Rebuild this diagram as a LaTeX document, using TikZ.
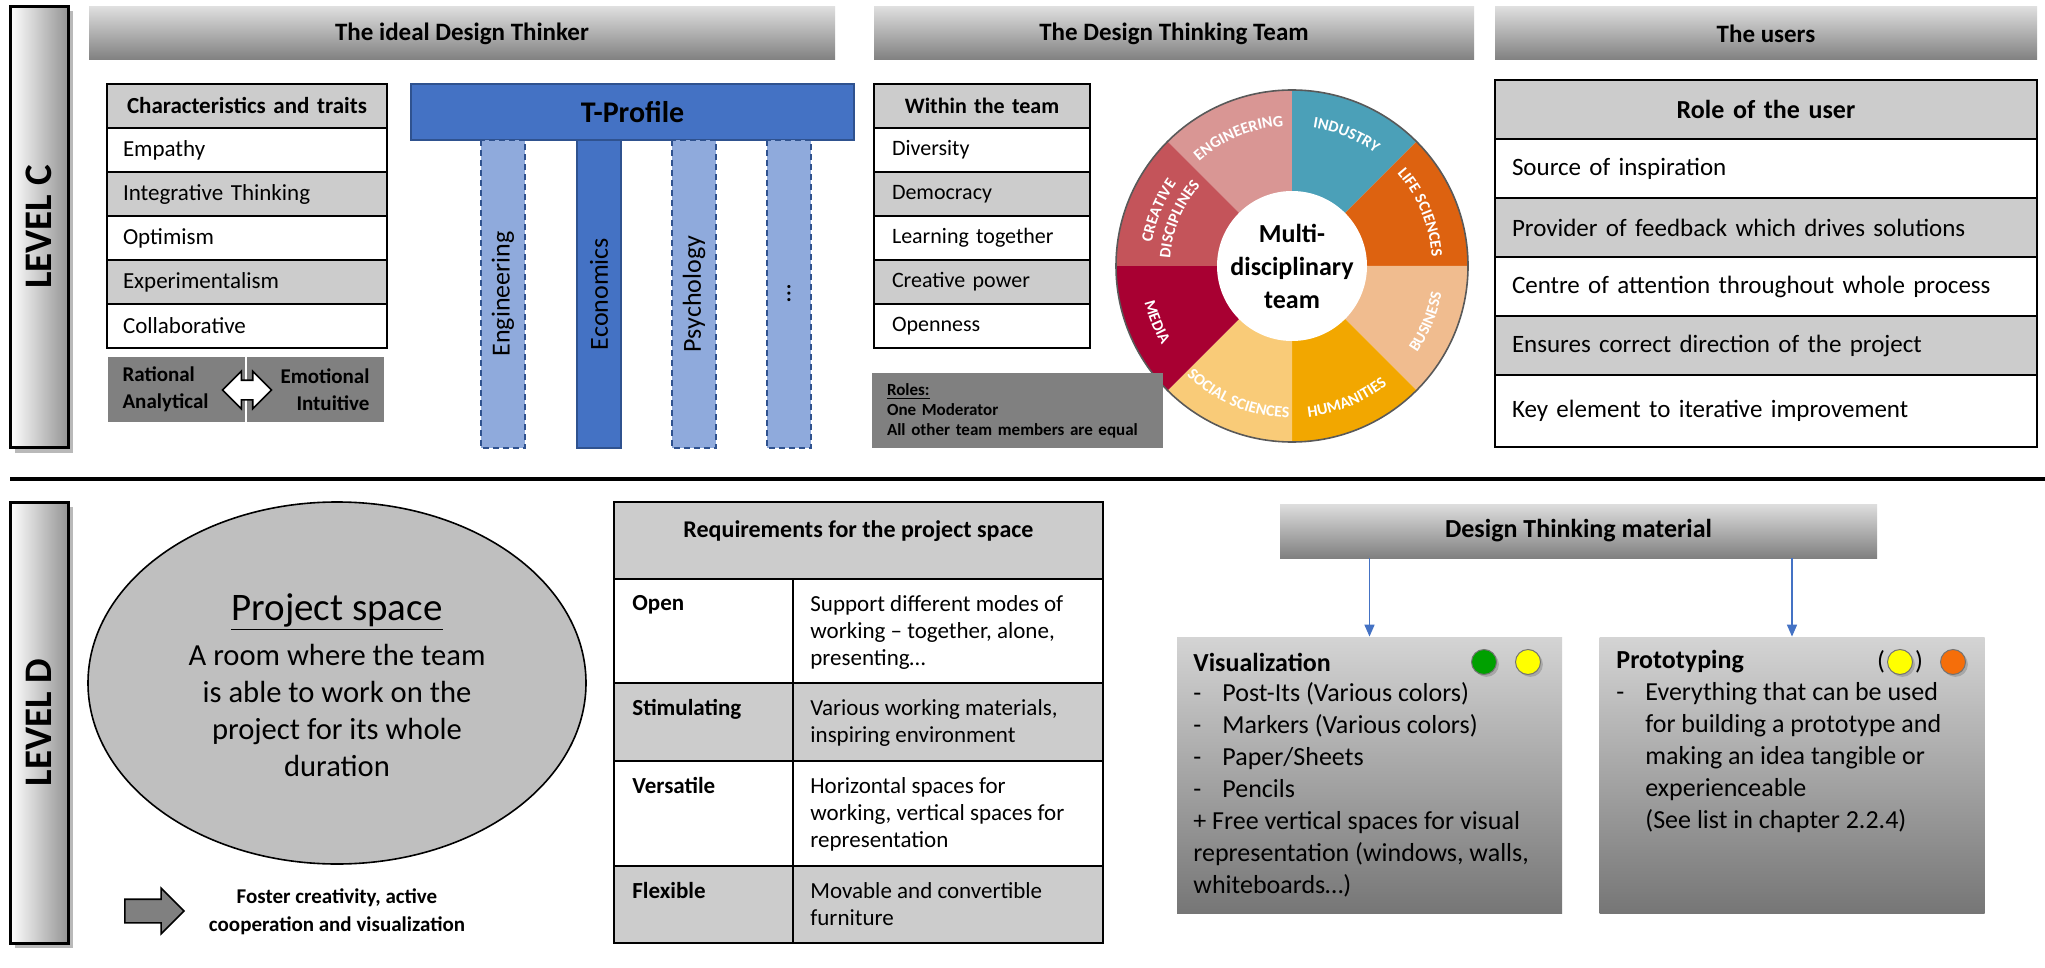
\documentclass[tikz,border=0pt]{standalone}
\usepackage{fontspec}
\setmainfont{Carlito}
\usepackage{graphicx}
\usetikzlibrary{positioning,shadows,shapes.arrows,shapes.geometric,arrows.meta,decorations.text}
\definecolor{hdtop}{RGB}{222,222,222}
\definecolor{hdbot}{RGB}{128,128,128}
\definecolor{cgray}{RGB}{204,204,204}
\definecolor{dgray}{RGB}{128,128,128}
\definecolor{egray}{RGB}{191,191,191}
\definecolor{tblue}{RGB}{68,114,196}
\definecolor{tlight}{RGB}{143,170,220}
\definecolor{tedge}{RGB}{47,82,143}
\definecolor{wEng}{RGB}{217,150,148}
\definecolor{wInd}{RGB}{75,160,184}
\definecolor{wLife}{RGB}{221,98,16}
\definecolor{wBus}{RGB}{240,188,143}
\definecolor{wHum}{RGB}{242,167,0}
\definecolor{wSoc}{RGB}{249,203,120}
\definecolor{wMed}{RGB}{168,0,50}
\definecolor{wCre}{RGB}{196,84,90}
\definecolor{gtop}{RGB}{212,212,212}
\definecolor{gbot}{RGB}{118,118,118}
\definecolor{dotgreen}{RGB}{0,160,0}
\definecolor{dotyellow}{RGB}{255,255,0}
\definecolor{dotorange}{RGB}{245,110,10}

\newcommand{\fsz}[2]{\fontsize{#1}{#2}\selectfont}
\newcommand{\mitem}{\makebox[14.5pt][l]{-}}
\newcommand{\mgap}{\hspace*{14.5pt}}
\newcommand{\wfont}{\fsz{8}{9}\bfseries\color{white}}

\begin{document}
\begin{tikzpicture}[x=0.5pt, y=-0.5pt,
    level/.style={draw, line width=1.5pt, left color=white, right color=black!42,
                  minimum width=29pt, minimum height=220.5pt, inner sep=0pt,
                  font=\bfseries\fsz{19.5}{22},
                  drop shadow={shadow xshift=2.5pt, shadow yshift=-2.5pt, opacity=0.55}},
    head/.style={top color=hdtop, bottom color=hdbot, minimum height=26.5pt,
                 inner sep=0pt, font=\bfseries\fsz{12.5}{15}},
    thead/.style={draw, line width=1.1pt, fill=cgray, anchor=north, align=center,
                  inner ysep=0pt, outer sep=0pt, font=\bfseries\fsz{11.5}{14}},
    trow/.style={draw, line width=1.1pt, anchor=north, align=left,
                 inner ysep=0pt, outer sep=0pt, font=\fsz{11.5}{14}},
    gbox/.style={fill=dgray, inner ysep=0pt, font=\bfseries\fsz{10.5}{13.5}},
    tbar/.style={draw=tedge, fill=tblue, line width=0.8pt, minimum width=221.5pt,
                 minimum height=28pt, font=\bfseries\fsz{15}{18}},
    stem/.style={draw=tedge, line width=0.8pt, minimum width=154pt, minimum height=22pt,
                 inner sep=0pt, font=\fsz{13}{15}},
    stemL/.style={stem, fill=tlight, dash pattern=on 3pt off 2pt},
    stemD/.style={stem, fill=tblue},
    wlab/.style={decorate, decoration={text along path, text align=center,
                 text={|\wfont|#1}}},
    rcell/.style={draw, line width=1.1pt, anchor=north west, inner sep=0pt, outer sep=0pt},
    rkey/.style={anchor=north west, inner sep=0pt, font=\bfseries\fsz{11.5}{13.5}},
    rval/.style={anchor=north west, inner sep=0pt, align=left, font=\fsz{11.5}{13.5}},
    mbox/.style={top color=gtop, bottom color=gbot, minimum width=192.5pt,
                 minimum height=138pt, inner sep=0pt},
    mtitle/.style={anchor=west, inner sep=0pt, font=\bfseries\fsz{13}{16}},
    mtext/.style={anchor=north west, inner sep=0pt, align=left, font=\fsz{13}{16}},
    dot/.style={circle, draw=black!55, line width=0.5pt, minimum size=12.5pt, inner sep=0pt,
                drop shadow={shadow xshift=1.2pt, shadow yshift=-1.2pt, opacity=0.45}},
    link/.style={->, draw=tblue, line width=0.8pt, >={Triangle[length=6pt, width=5pt]}},
  ]
  \useasboundingbox (0,0) rectangle (2045,968);
  \fill[white] (0,0) rectangle (2045,968);

  % levels
  \node[level] (lvC) at (39,227) {\rotatebox{90}{LEVEL C}};
  \node[level] (lvD) at (39,722.5) {\rotatebox{90}{LEVEL D}};
  \draw[line width=2pt] (10,479) -- (2045,479);

  % headers
  \node[head, minimum width=373pt] (hThinker) at (462,33.5) {The ideal Design Thinker};
  \node[head, minimum width=300pt] (hTeam) at (1174,33.5) {The Design Thinking Team};
  \node[head, minimum width=271pt] (hUsers) at (1766,33.5) {The users};

  % characteristics
  \node[thead, text width=124pt, inner xsep=8pt, minimum height=22pt] (ch0) at (247,84)
    {Characteristics and traits};
  \foreach \c/\t [count=\i, remember=\i as \k (initially 0)] in
      {white/Empathy, cgray/Integrative Thinking, white/Optimism,
       cgray/Experimentalism, white/Collaborative}
    \node[trow, fill=\c, text width=124pt, inner xsep=8pt, minimum height=22pt,
          below=0pt of ch\k] (ch\i) {\t};

  \node[gbox, text width=54pt, inner xsep=7.25pt, minimum height=32.5pt, align=left]
    (rat) at (176.5,389.5) {Rational\\Analytical};
  \node[gbox, text width=54pt, inner xsep=7.25pt, minimum height=32.5pt, align=right]
    (emo) at (315.5,389.5) {Emotional\\Intuitive};
  \node[double arrow, draw, fill=white, line width=0.8pt, minimum height=24.5pt,
        minimum width=18pt, double arrow head extend=4.5pt, inner xsep=0pt, inner ysep=4.5pt]
    (ratemo) at (247,390) {};

  % T-profile
  \node[tbar] (tprof) at (632.5,112) {T-Profile};
  \foreach \x/\s/\t [count=\i] in {503/stemL/Engineering, 599/stemD/Economics,
                                   694/stemL/Psychology, 789/stemL/…}
    \node[\s, rotate=90] (st\i) at (\x,294) {\t};

  % team
  \node[thead, text width=90pt, inner xsep=9pt, minimum height=22pt, font=\bfseries\fsz{11}{13}]
    (tm0) at (982,84) {Within the team};
  \foreach \c/\t [count=\i, remember=\i as \k (initially 0)] in
      {white/Diversity, cgray/Democracy, white/Learning together,
       cgray/Creative power, white/Openness}
    \node[trow, fill=\c, text width=90pt, inner xsep=9pt, minimum height=22pt,
          font=\fsz{11}{13}, below=0pt of tm\k] (tm\i) {\t};

  % wheel
  \begin{scope}[shift={(1292,266)}, x=0.5pt, y=0.5pt]
    \foreach \a/\c in {90/wEng, 45/wInd, 0/wLife, -45/wBus, -90/wHum, -135/wSoc, 180/wMed, 135/wCre}
      \fill[\c] (0,0) -- (\a:176) arc[start angle=\a, end angle=\a+45, radius=176] -- cycle;
    \draw[black!65, line width=0.8pt] (0,0) circle[radius=176];
    \path[wlab=ENGINEERING] (152.5:140) arc[start angle=152.5, end angle=72.5, radius=140];
    \path[wlab=INDUSTRY] (107.5:140) arc[start angle=107.5, end angle=27.5, radius=140];
    \path[wlab=LIFE SCIENCES] (62.5:140) arc[start angle=62.5, end angle=-17.5, radius=140];
    \path[wlab=BUSINESS] (-62.5:152) arc[start angle=-62.5, end angle=17.5, radius=152];
    \path[wlab=HUMANITIES] (252.5:152) arc[start angle=252.5, end angle=332.5, radius=152];
    \path[wlab=SOCIAL SCIENCES] (207.5:152) arc[start angle=207.5, end angle=287.5, radius=152];
    \path[wlab=MEDIA] (162.5:152) arc[start angle=162.5, end angle=242.5, radius=152];
    \path[wlab=CREATIVE] (197.5:142) arc[start angle=197.5, end angle=117.5, radius=142];
    \path[wlab=DISCIPLINES] (197.5:122) arc[start angle=197.5, end angle=117.5, radius=122];
    \node[circle, fill=white, minimum size=75pt, inner sep=0pt, align=center,
          font=\bfseries\fsz{13}{16.5}] (multi) at (0,0) {Multi-\\disciplinary\\team};
  \end{scope}

  \node[fill=dgray, text width=130.5pt, inner xsep=7.5pt, minimum height=37.5pt, align=left,
        font=\bfseries\fsz{8.5}{10}] (roles) at (1017.5,410.5)
    {\underline{Roles:}\\One Moderator\\All other team members are equal};

  % users
  \node[thead, text width=254pt, inner xsep=8.5pt, minimum height=29.5pt, font=\bfseries\fsz{13}{15}]
    (us0) at (1766,80) {Role of the user};
  \foreach \c/\h/\t [count=\i, remember=\i as \k (initially 0)] in
      {white/29.5/Source of inspiration, cgray/29.5/Provider of feedback which drives solutions,
       white/29.5/Centre of attention throughout whole process,
       cgray/29.5/Ensures correct direction of the project,
       white/36/Key element to iterative improvement}
    \node[trow, fill=\c, text width=254pt, inner xsep=8.5pt, minimum height=\h pt,
          font=\fsz{12.5}{15}, below=0pt of us\k] (us\i) {\t};

  % project space
  \node[ellipse, draw, fill=egray, line width=0.8pt, minimum width=249pt, minimum height=181pt]
    (space) at (337,683) {};
  \node[font=\fsz{19.5}{22}, inner sep=0pt] (spacet) at (337,612) {\underline{Project space}};
  \node[font=\fsz{15.3}{18.5}, align=center, inner sep=0pt] (spaceb) at (337,710)
    {A room where the team\\is able to work on the\\project for its whole\\duration};
  \node[single arrow, draw, fill=dgray, line width=0.8pt, minimum height=29.5pt,
        minimum width=22pt, single arrow head extend=5.5pt, inner xsep=0pt, inner ysep=5.5pt]
    (fost) at (148.5,911) {};
  \node[font=\bfseries\fsz{10.5}{14}, align=center, inner sep=0pt] (fosttxt) at (337,912)
    {Foster creativity, active\\cooperation and visualization};

  % requirements
  \node[rcell, fill=cgray, minimum width=244.5pt, minimum height=38.5pt] (rqh) at (614,502) {};
  \node[anchor=north, inner sep=0pt, font=\bfseries\fsz{12}{14}] (rqt) at ([yshift=-9pt]rqh.north)
    {Requirements for the project space};
  \coordinate (rl0) at (rqh.south west);
  \foreach \h/\c/\l/\r [count=\i, remember=\i as \k (initially 0)] in
      {52/white/Open/{Support different modes of\\working -- together, alone,\\presenting…},
       39/cgray/Stimulating/{Various working materials,\\inspiring environment},
       52.5/white/Versatile/{Horizontal spaces for\\working, vertical spaces for\\representation},
       38.5/cgray/Flexible/{Movable and convertible\\furniture}}
  {
    \node[rcell, fill=\c, minimum width=89.5pt, minimum height=\h pt] (rl\i) at (rl\k.south west) {};
    \node[rcell, fill=\c, minimum width=155pt, minimum height=\h pt] (rr\i) at (rl\i.north east) {};
    \node[rkey] (rk\i) at ([shift={(9pt,-8pt)}]rl\i.north west) {\l};
    \node[rval] (rv\i) at ([shift={(8.5pt,-8pt)}]rr\i.north west) {\r};
  }

  % material
  \node[head, minimum width=298.5pt, minimum height=27pt, font=\bfseries\fsz{13}{15}]
    (dtm) at (1578.5,531) {Design Thinking material};
  \node[mbox] (vis) at (1369.5,775) {};
  \node[mbox] (proto) at (1792,775) {};
  \draw[link] (dtm.south -| vis.north) -- (vis.north);
  \draw[link] (dtm.south -| proto.north) -- (proto.north);

  \node[mtitle] (vist) at (1193,662) {Visualization};
  \node[dot, fill=dotgreen] (vg) at (1484,662) {};
  \node[dot, fill=dotyellow] (vy) at (1528,662) {};
  \node[mtext] (vistxt) at (1193,682)
    {\mitem Post-Its (Various colors)\\\mitem Markers (Various colors)\\
     \mitem Paper/Sheets\\\mitem Pencils\\+ Free vertical spaces for visual\\
     representation (windows, walls,\\whiteboards…)};

  \node[mtitle] (protot) at (1616,662) {Prototyping};
  \node[dot, fill=dotyellow] (py) at (1900,662) {};
  \node[mtitle, anchor=east, font=\fsz{13}{16}] (pl) at ([xshift=-0.8pt]py.west) {(};
  \node[mtitle, anchor=west, font=\fsz{13}{16}] (pr) at ([xshift=0.8pt]py.east) {)};
  \node[dot, fill=dotorange] (po) at (1953,662) {};
  \node[mtext] (prototxt) at (1616,682)
    {\mitem Everything that can be used\\\mgap for building a prototype and\\
     \mgap making an idea tangible or\\\mgap experienceable\\\mgap (See list in chapter 2.2.4)};
\end{tikzpicture}
\end{document}
